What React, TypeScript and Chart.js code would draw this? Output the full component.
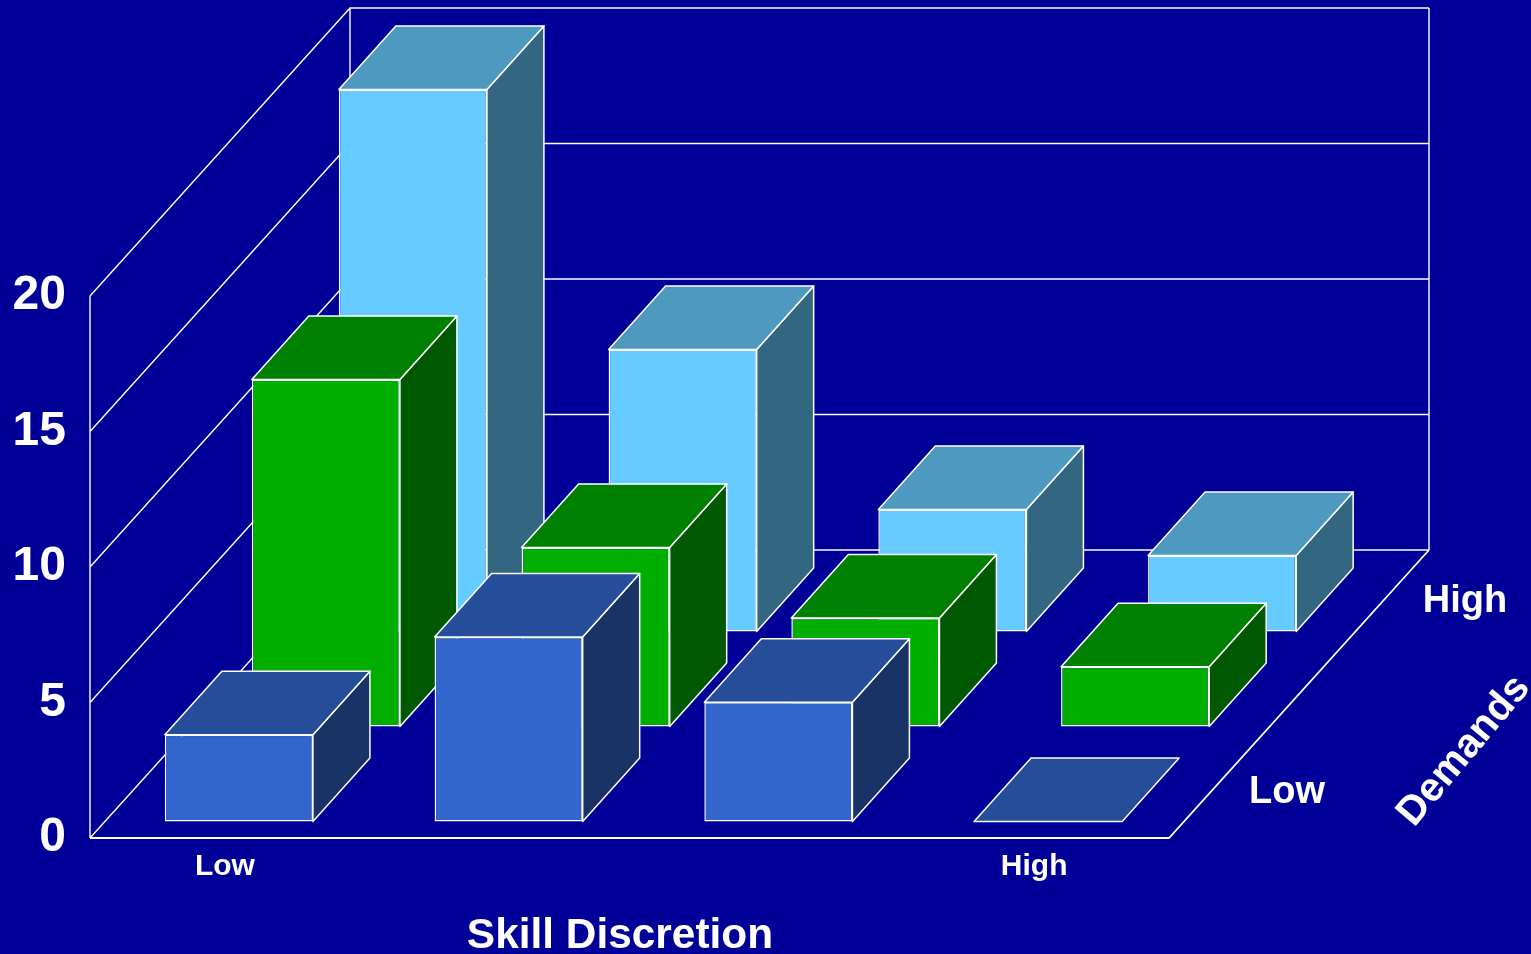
import React, { useEffect, useRef } from "react";
import { Chart, registerables } from "chart.js";

Chart.register(...registerables);

// Job categories along the skill-discretion axis
const skillLabels = ["Low", "", "", "High"];
// Rows along the depth axis, front to back
const demandRows = ["Low", "", "High"];

const lowDemands = [3.2, 6.8, 4.4, 0];
const midDemands = [12.8, 6.6, 4.0, 2.2];
const highDemands = [20, 10.4, 4.5, 2.8];

const tickStep = 5;
const tickMax = 20;

const BACKGROUND = "#000099";
const LINE = "#FFFFFF";
const FONT = '"Liberation Sans", Arial, sans-serif';

// Screen vector of the floor's full depth
const DEPTH_X = 260;
const DEPTH_Y = -288;
// Screen vector of one box's depth
const BOX_DX = 57;
const BOX_DY = -63.5;
// Offset of each row's front plane from the front edge of the floor
const ROW_X0 = 14;
const ROW_X_PITCH = 87;
const ROW_Y0 = -16.6;
const ROW_Y_PITCH = -95;

const palettes = [
  { front: "#3366CC", top: "#264D99", side: "#1A3366" },
  { front: "#00AE00", top: "#008000", side: "#005900" },
  { front: "#66CCFF", top: "#4D99BF", side: "#336680" },
];

function polygon(ctx: CanvasRenderingContext2D, pts: number[][], fill: string) {
  ctx.beginPath();
  pts.forEach(([x, y], i) => (i ? ctx.lineTo(x, y) : ctx.moveTo(x, y)));
  ctx.closePath();
  ctx.fillStyle = fill;
  ctx.fill();
  ctx.strokeStyle = LINE;
  ctx.lineWidth = 1.5;
  ctx.stroke();
}

// Left wall, back wall, floor and the gridlines running over both walls
const wallsPlugin = {
  id: "walls",
  beforeDatasetsDraw(chart: any) {
    const { ctx, chartArea, scales } = chart;
    const { left, right } = chartArea;
    const yScale = scales.y;
    const y0 = yScale.getPixelForValue(0);
    const yMax = yScale.getPixelForValue(tickMax);
    ctx.save();
    ctx.strokeStyle = LINE;
    ctx.lineWidth = 1.4;
    ctx.beginPath();
    for (const tick of yScale.ticks) {
      const y = yScale.getPixelForValue(tick.value);
      ctx.moveTo(left, y);
      ctx.lineTo(left + DEPTH_X, y + DEPTH_Y);
      ctx.lineTo(right + DEPTH_X, y + DEPTH_Y);
    }
    ctx.moveTo(left, yMax);
    ctx.lineTo(left, y0);
    ctx.moveTo(left + DEPTH_X, yMax + DEPTH_Y);
    ctx.lineTo(left + DEPTH_X, y0 + DEPTH_Y);
    ctx.moveTo(right + DEPTH_X, yMax + DEPTH_Y);
    ctx.lineTo(right + DEPTH_X, y0 + DEPTH_Y);
    ctx.stroke();
    ctx.lineWidth = 1.8;
    ctx.beginPath();
    ctx.moveTo(left, y0);
    ctx.lineTo(right, y0);
    ctx.lineTo(right + DEPTH_X, y0 + DEPTH_Y);
    ctx.stroke();
    ctx.restore();
  },
};

// Gives every bar a top and a side, then shifts the front face back to its row
const boxPlugin = {
  id: "boxes",
  beforeDatasetDraw(chart: any, args: any) {
    const { ctx } = chart;
    const row = args.index;
    const palette = palettes[row];
    ctx.save();
    ctx.translate(ROW_X0 + row * ROW_X_PITCH, ROW_Y0 + row * ROW_Y_PITCH);
    ctx.lineJoin = "round";
    for (const bar of args.meta.data) {
      const { x, y, base, width } = bar.getProps(["x", "y", "base", "width"], true);
      const l = x - width / 2;
      const r = x + width / 2;
      if (base - y > 0.5) {
        polygon(ctx, [[r, y], [r + BOX_DX, y + BOX_DY], [r + BOX_DX, base + BOX_DY], [r, base]], palette.side);
      }
      polygon(ctx, [[l, y], [l + BOX_DX, y + BOX_DY], [r + BOX_DX, y + BOX_DY], [r, y]], palette.top);
    }
  },
  afterDatasetDraw(chart: any) {
    chart.ctx.restore();
  },
};

// Axis names and the depth-axis labels
const captionsPlugin = {
  id: "captions",
  afterDraw(chart: any) {
    const { ctx } = chart;
    ctx.save();
    ctx.fillStyle = LINE;
    ctx.textAlign = "center";
    ctx.textBaseline = "middle";
    ctx.font = `bold 42.4px ${FONT}`;
    ctx.fillText("Skill Discretion", 620, 936);
    ctx.font = `bold 38px ${FONT}`;
    ctx.fillText(demandRows[0], 1287, 793);
    ctx.fillText(demandRows[2], 1465, 602);
    ctx.font = `bold 40.5px ${FONT}`;
    ctx.translate(1464, 751);
    ctx.rotate((-50 * Math.PI) / 180);
    ctx.fillText("Demands", 0, 0);
    ctx.restore();
  },
};

export default function App() {
  const canvasRef = useRef<HTMLCanvasElement>(null);

  useEffect(() => {
    document.body.style.margin = "0";
    document.body.style.background = BACKGROUND;
    const series = [lowDemands, midDemands, highDemands];
    const chart = new Chart(canvasRef.current!, {
      type: "bar",
      data: {
        labels: skillLabels,
        datasets: series.map((values, i) => ({
          label: demandRows[i] || "Medium",
          data: values,
          backgroundColor: palettes[i].front,
          borderColor: LINE,
          borderWidth: 1.5,
          borderSkipped: false,
          grouped: false,
          clip: false,
          categoryPercentage: 0.549,
          barPercentage: 1,
        })),
      } as any,
      options: {
        animation: false,
        responsive: false,
        layout: { padding: { top: 296, right: 362, left: 0, bottom: 0 } },
        plugins: { legend: { display: false }, tooltip: { enabled: false } },
        scales: {
          x: {
            grid: { display: false },
            border: { display: false },
            afterFit: (scale: any) => {
              scale.height = 116;
            },
            ticks: {
              color: LINE,
              padding: 3,
              autoSkip: false,
              maxRotation: 0,
              font: { family: FONT, size: 30, weight: "bold" },
            },
          },
          y: {
            min: 0,
            max: tickMax,
            grid: { display: false },
            border: { display: false },
            afterFit: (scale: any) => {
              scale.width = 90;
            },
            ticks: {
              stepSize: tickStep,
              color: LINE,
              padding: 16,
              font: { family: FONT, size: 48, weight: "bold" },
            },
          },
        },
      } as any,
      plugins: [wallsPlugin, boxPlugin, captionsPlugin],
    });
    return () => chart.destroy();
  }, []);

  return (
    <canvas
      ref={canvasRef}
      width={1531}
      height={954}
      style={{ display: "block", width: 1531, height: 954, background: BACKGROUND }}
    />
  );
}
